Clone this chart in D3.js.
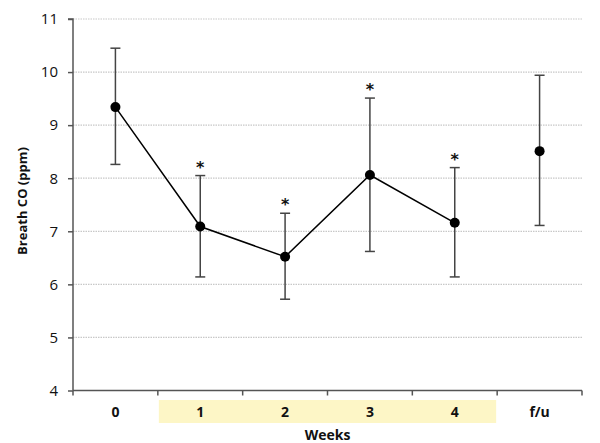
<!DOCTYPE html>
<html><head><meta charset="utf-8">
<script src="https://cdn.jsdelivr.net/npm/d3@7"></script>
<style>body{margin:0;background:#fff}svg{display:block}</style>
</head><body>
<script>
const categories = ["0","1","2","3","4","f/u"];
const means = [9.34, 7.09, 6.52, 8.06, 7.16, 8.51];
const upper = [10.45, 8.05, 7.34, 9.51, 8.20, 9.94];
const lower = [8.26, 6.14, 5.72, 6.62, 6.14, 7.11];
const significant = [false, true, true, true, true, false];
const connected = [true, true, true, true, true, false];
const highlighted = ["1","2","3","4"];
const yTicks = [4,5,6,7,8,9,10,11];

const W=600,H=443;
const svg=d3.select("body").append("svg").attr("width",W).attr("height",H);
const x=d3.scaleBand().domain(categories).range([73,582]);
const y=d3.scaleLinear().domain([4,11]).range([390.5,19]);

// highlight band
const hx0=x(highlighted[0]), hx1=x(highlighted[highlighted.length-1])+x.bandwidth();
svg.append("rect").attr("x",hx0+1).attr("y",400).attr("width",hx1-hx0-2).attr("height",23).attr("fill","#fdf6c6");

// gridlines
svg.append("g").selectAll("line").data(yTicks.filter(d=>d>4)).join("line")
 .attr("x1",73).attr("x2",582).attr("y1",d=>y(d)).attr("y2",d=>y(d))
 .attr("stroke","#c8c8c8").attr("stroke-width",1.2).attr("stroke-dasharray","1.5,1");

// y axis
const ya=svg.append("g").attr("transform","translate(73,0)")
 .call(d3.axisLeft(y).tickValues(yTicks).tickSize(5).tickPadding(10).tickFormat(d3.format("d")));
ya.select(".domain").attr("stroke","#555").attr("stroke-width",1.5).attr("d","M-5,"+y(11)+"H0V"+y(4));
ya.selectAll(".tick line").attr("stroke","#555").attr("stroke-width",1.5);
ya.selectAll("text").attr("font-family","'Open Sans',sans-serif").attr("font-size",15).attr("fill","#111");

// x axis
const xa=svg.append("g").attr("transform","translate(0,390.5)");
xa.append("line").attr("x1",73).attr("x2",582).attr("stroke","#555").attr("stroke-width",1.5);
const xt=categories.map(c=>x(c)).concat([582]);
xa.selectAll(".t").data(xt).join("line").attr("x1",d=>d).attr("x2",d=>d).attr("y1",0).attr("y2",5)
 .attr("stroke","#555").attr("stroke-width",1.5);
xa.selectAll("text").data(categories).join("text").attr("x",d=>x(d)+x.bandwidth()/2).attr("y",26)
 .attr("text-anchor","middle").attr("font-family","'Open Sans',sans-serif").attr("font-weight","bold")
 .attr("font-size",14).attr("fill","#111").text(d=>d);

// axis titles
svg.append("text").attr("x",x(categories[2])+x.bandwidth()).attr("y",440).attr("text-anchor","middle")
 .attr("font-family","'Open Sans',sans-serif").attr("font-weight","bold").attr("font-size",14).attr("fill","#111").text("Weeks");
svg.append("text").attr("transform","translate(27,201) rotate(-90)").attr("text-anchor","middle")
 .attr("font-family","'Open Sans',sans-serif").attr("font-weight","bold").attr("font-size",13).attr("fill","#111").text("Breath CO (ppm)");

const cx=i=>x(categories[i])+x.bandwidth()/2;
const idx=d3.range(categories.length);

// error bars
const eb=svg.append("g").attr("stroke","#444").attr("stroke-width",1.5);
eb.selectAll(".v").data(idx).join("line").attr("x1",cx).attr("x2",cx).attr("y1",i=>y(upper[i])).attr("y2",i=>y(lower[i]));
eb.selectAll(".u").data(idx).join("line").attr("x1",i=>cx(i)-5).attr("x2",i=>cx(i)+5).attr("y1",i=>y(upper[i])).attr("y2",i=>y(upper[i]));
eb.selectAll(".l").data(idx).join("line").attr("x1",i=>cx(i)-5).attr("x2",i=>cx(i)+5).attr("y1",i=>y(lower[i])).attr("y2",i=>y(lower[i]));

// line
svg.append("path").datum(idx.filter(i=>connected[i]))
 .attr("d",d3.line().x(cx).y(i=>y(means[i]))).attr("fill","none").attr("stroke","#000").attr("stroke-width",1.5);

// points
svg.append("g").selectAll("circle").data(idx).join("circle").attr("cx",cx).attr("cy",i=>y(means[i])).attr("r",5).attr("fill","#000");

// asterisks
svg.append("g").selectAll("text").data(idx.filter(i=>significant[i])).join("text")
 .attr("x",cx).attr("y",i=>y(upper[i])-3).attr("text-anchor","middle")
 .attr("font-family","'DejaVu Sans',sans-serif").attr("font-weight","bold").attr("font-size",16).attr("fill","#111").text("*");
</script>
</body></html>
